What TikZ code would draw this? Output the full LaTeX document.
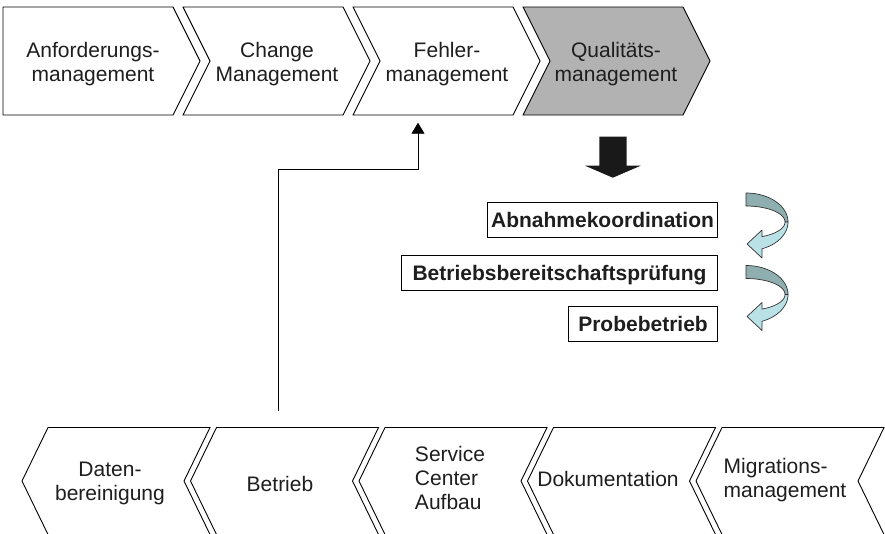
\documentclass[tikz,border=0pt]{standalone}
\usepackage{fontspec}
\setmainfont{Liberation Sans}
\usetikzlibrary{arrows.meta}
\definecolor{stepgray}{RGB}{178,178,178}
\definecolor{ribbonback}{RGB}{143,174,175}
\definecolor{ribbonfront}{RGB}{186,226,230}
\definecolor{inktext}{RGB}{30,30,30}

\begin{document}
\begin{tikzpicture}[x=1pt,y=-1pt,
  chev/.style={draw=black, line width=0.9pt, line join=miter, fill=white},
  % multi-line labels sit on the baseline of their last line
  lbl/.style={font=\fontsize{21}{24}\selectfont, text=inktext, align=center,
              anchor=base, inner sep=0pt},
  tbox/.style={draw=black, line width=0.9pt, font=\fontsize{21}{24}\selectfont\bfseries,
               text=inktext, text height=15pt, text depth=0pt, minimum height=35pt,
               inner sep=0pt, anchor=east},
  ribbon/.style={draw=black!80, line width=0.7pt, line join=round},
  link/.style={draw=black, line width=0.9pt, -{Triangle[length=11pt,width=13pt]}},
]
\useasboundingbox (0,0) rectangle (885,533);

% upper process chain (pointing right)
\draw[chev] (3,7) -- (173,7) -- (200,61) -- (173,115) -- (3,115) -- cycle;
\foreach \L in {183,353}
  \draw[chev] (\L,7) -- ++(160,0) -- ++(27,54) -- ++(-27,54) -- ++(-160,0) -- ++(27,-54) -- cycle;
\draw[chev, fill=stepgray] (523,7) -- ++(160,0) -- ++(27,54) -- ++(-27,54) -- ++(-160,0) -- ++(27,-54) -- cycle;

\node[lbl] (anf)  at (93,81.5)  {Anforderungs-\\management};
\node[lbl] (chg)  at (277,81.5) {Change\\Management};
\node[lbl] (fehl) at (447,81.5) {Fehler-\\management};
\node[lbl] (qual) at (616,81.5) {Qualitäts-\\management};

% lower chain (pointing left), running past the lower edge
\foreach \T in {48,216.5,385,553.5,722}
  \draw[chev] (\T,427.5) -- ++(162,0) -- ++(-26,53.5) -- ++(26,53.5) -- ++(-162,0) -- ++(-26,-53.5) -- cycle;

\node[lbl] (dat)  at (110,500.7) {Daten-\\bereinigung};
\node[lbl] (betr) at (280,491.7) {Betrieb};
\node[lbl, align=left] (svc) at (450,509.7) {Service\\Center\\Aufbau};
\node[lbl] (doku) at (608,486.7) {Dokumentation};
\node[lbl, align=left] (mig) at (785,497.3) {Migrations-\\management};

% feedback link from operation to defect management
\coordinate (linkStart) at (278,411);
\coordinate (linkBend)  at (418,169);
\coordinate (linkEnd)   at (418,122.7);
\draw[link] (linkStart) |- (linkBend) -- (linkEnd);

% big down arrow
\fill[black!90] (599.3,136.7) -- (626.7,136.7) -- (626.7,165.7) -- (640.7,165.7)
  -- (612.8,177.7) -- (585,165.7) -- (599.3,165.7) -- cycle;

% steps of quality management
\node[tbox, minimum width=230pt] (abn)   at (718,219.5) {Abnahmekoordination};
\node[tbox, minimum width=316pt] (bbp)   at (718,273)   {Betriebsbereitschaftsprüfung};
\node[tbox, minimum width=149pt] (probe) at (718,324)   {Probebetrieb};

% curved ribbon arrows between the steps
\foreach \dy in {0,72.5} {
  \filldraw[ribbon, fill=ribbonback]
    plot[domain=90:0, samples=30] ({746+42*cos(\x)},{222+\dy-29*sin(\x)})
    -- plot[domain=0:90, samples=30] ({746+39*cos(\x)},{222+\dy-16*sin(\x)}) -- cycle;
  \filldraw[ribbon, fill=ribbonfront]
    plot[domain=0:-67.6, samples=30] ({746+42*cos(\x)},{222+\dy-29*sin(\x)})
    -- (762,258+\dy) -- (747,244+\dy) -- (762,230+\dy)
    -- plot[domain=-65.8:0, samples=30] ({746+39*cos(\x)},{222+\dy-16*sin(\x)}) -- cycle;
}
\end{tikzpicture}
\end{document}
